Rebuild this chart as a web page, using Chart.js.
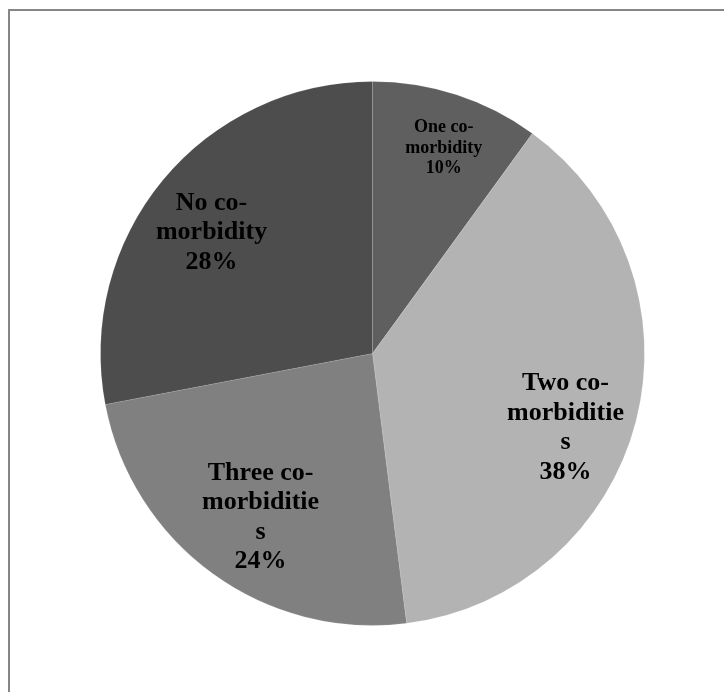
<!DOCTYPE html>
<html>
<head>
<meta charset="utf-8">
<script src="https://cdn.jsdelivr.net/npm/chart.js@4"></script>
<style>
  html, body { margin: 0; padding: 0; background: #fff; }
  #frame {
    position: absolute; left: 8px; top: 9px; width: 730px; height: 700px;
    border-left: 2px solid #868686; border-top: 2px solid #868686;
  }
  #wrap { position: absolute; left: 0; top: 0; width: 724px; height: 692px; }
</style>
</head>
<body>
<div id="frame"></div>
<div id="wrap"><canvas id="pieChart" width="724" height="692"></canvas></div>
<script>
const labels = ["One co-morbidity", "Two co-morbidities", "Three co-morbidities", "No co-morbidity"];
const values = [10, 38, 24, 28];
const labelLines = [
  ["One co-", "morbidity", "10%"],
  ["Two co-", "morbiditie", "s", "38%"],
  ["Three co-", "morbiditie", "s", "24%"],
  ["No co-", "morbidity", "28%"],
];
const colors = ["#5f5f5f", "#b3b3b3", "#808080", "#4d4d4d"];

// label placement relative to each arc: fraction of radius, angle shift (deg)
const labelRadius = [0.80, 0.76, 0.73, 0.74];
const labelShift = [1.1, 6.6, -1.7, -2.7];

/* ---------- slice labels drawn inside the arcs ---------- */
const sliceLabels = {
  id: "sliceLabels",
  afterDatasetsDraw(chart) {
    const { ctx } = chart;
    const meta = chart.getDatasetMeta(0);
    meta.data.forEach((arc, i) => {
      const small = values[i] < 15;
      const size = small ? 18 : 26;
      const lh = small ? 20.5 : 29.5;
      const mid = (arc.startAngle + arc.endAngle) / 2 + labelShift[i] * Math.PI / 180;
      const x = arc.x + Math.cos(mid) * arc.outerRadius * labelRadius[i];
      const y = arc.y + Math.sin(mid) * arc.outerRadius * labelRadius[i];
      const lines = labelLines[i];
      ctx.save();
      ctx.font = `bold ${size}px "Liberation Serif", "Times New Roman", serif`;
      ctx.fillStyle = "#000";
      ctx.textAlign = "center";
      ctx.textBaseline = "middle";
      const y0 = y - (lines.length - 1) * lh / 2;
      lines.forEach((t, k) => ctx.fillText(t, x, y0 + k * lh));
      ctx.restore();
    });
  },
};

new Chart(document.getElementById("pieChart"), {
  type: "pie",
  data: {
    labels,
    datasets: [{
      data: values,
      backgroundColor: colors,
      borderColor: "rgba(255,255,255,0.12)",
      borderWidth: 1,
    }],
  },
  options: {
    responsive: false,
    animation: false,
    layout: { padding: { left: 100, top: 81, right: 79, bottom: 66 } },
    plugins: {
      legend: { display: false },
      tooltip: { enabled: false },
    },
  },
  plugins: [sliceLabels],
});
</script>
</body>
</html>
